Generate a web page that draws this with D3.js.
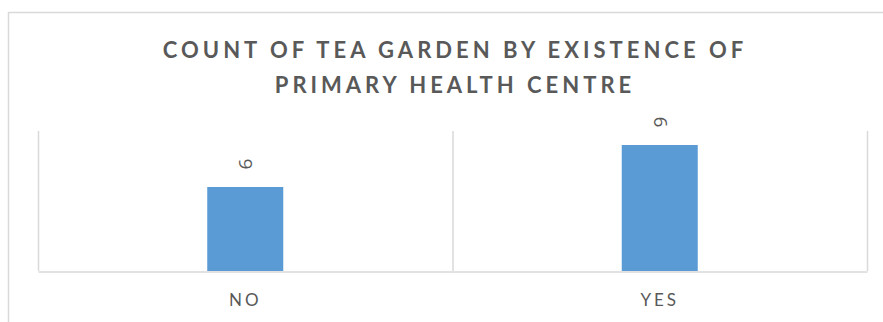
<!doctype html>
<html>
  <meta charset="utf-8">
  <head>
    <script src="https://d3js.org/d3.v7.min.js"></script>
    <style type='text/css'>
      body{ margin:0; background:#fff; }
      text{ font-family: Lato, "Open Sans", sans-serif; fill:#595959; }
      text.lbl{ font-family: "Open Sans", sans-serif; }
      g.tick line{ display:none; }
      path.domain{ fill:none; stroke:#d9d9d9; }
    </style>
  </head>
  <body>
    <svg id='chart'></svg>
    <script type='text/javascript'>
      var categories = ['NO','YES'];
      var counts = [6,9];
      var titleLines = ['COUNT OF TEA GARDEN BY EXISTENCE OF','PRIMARY HEALTH CENTRE'];

      var w = 883;
      var h = 322;
      var pLeft = 38, pRight = 867, pTop = 131, pBottom = 271;

      var svg = d3.select('svg').attr('width',w).attr('height',h);

      // chart border (runs off the picture on right and bottom)
      svg.append('rect').attr('x',8.5).attr('y',12.5)
        .attr('width',w).attr('height',h)
        .attr('fill','#fff').attr('stroke','#d9d9d9').attr('stroke-width',1.5);

      var xScale = d3.scaleBand().domain(categories).range([pLeft,pRight])
                     .paddingInner(0.8166).paddingOuter(0.4083);
      var xCat = d3.scaleBand().domain(categories).range([pLeft,pRight]);
      var yScale = d3.scaleLinear().domain([0,10]).range([pBottom,pTop]);

      // category separators
      var seps = categories.map((d)=>xCat(d)).concat([pRight]);
      svg.selectAll('line.sep').data(seps).enter()
        .append('line').attr('class','sep')
        .attr('x1',(d)=>d+0.5).attr('x2',(d)=>d+0.5)
        .attr('y1',pTop).attr('y2',pBottom)
        .style('stroke','#d9d9d9').style('stroke-width','1.5px');

      var xAxis = d3.axisBottom().scale(xScale).tickSize(0).tickPadding(22);
      var xg = svg.append('g').attr('id','xAxisG').call(xAxis)
        .attr('transform','translate(0,'+(pBottom+0.5)+')');
      xg.select('path.domain').style('stroke-width','1.5px');
      xg.selectAll('text').attr('font-size',17).style('letter-spacing','3px')
        .attr('fill','#595959');

      svg.selectAll('rect.bar').data(counts).enter()
        .append('rect').attr('class','bar')
        .attr('x',(d,i)=>xScale(categories[i]))
        .attr('width',xScale.bandwidth())
        .attr('y',(d)=>yScale(d))
        .attr('height',(d)=>pBottom-yScale(d))
        .attr('fill','#5b9bd5');

      // rotated data labels
      svg.selectAll('text.lbl').data(counts).enter()
        .append('text').attr('class','lbl')
        .attr('transform',(d,i)=>'translate('+(xScale(categories[i])+xScale.bandwidth()/2)+','+(yScale(d)-23)+') rotate(-90)')
        .attr('text-anchor','middle').attr('dy','0.36em')
        .attr('font-size',19)
        .text((d)=>d);

      svg.selectAll('text.title').data(titleLines).enter()
        .append('text').attr('class','title')
        .attr('x',455).attr('y',(d,i)=>58+i*35)
        .attr('text-anchor','middle')
        .attr('font-size',22).attr('font-weight','bold')
        .style('letter-spacing','4px')
        .text((d)=>d);
    </script>
  </body>
</html>
